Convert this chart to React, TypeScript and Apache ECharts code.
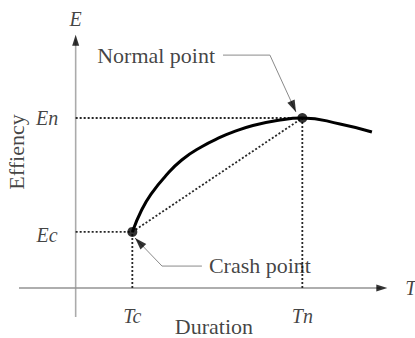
import { useEffect, useRef } from "react";
import * as echarts from "echarts";

// axis ranges (data units)
const T_RANGE = [-2.5, 14];
const E_RANGE = [-1.8, 15];
// key points: [crash, normal]
const T_KEY = [2.5, 10]; // Tc, Tn
const E_KEY = [3.3, 10]; // Ec, En
// efficiency curve
const CURVE_T = [2.5, 2.91, 3.35, 3.94, 4.68, 5.56, 6.44, 6.9, 7.82, 8.88, 10, 11.66, 13.07];
const CURVE_E = [3.3, 4.59, 5.57, 6.55, 7.53, 8.31, 8.9, 9.15, 9.56, 9.85, 10, 9.65, 9.18];
// drawn axes extents
const T_AXIS_LINE = [-2.5, 13.75];
const E_AXIS_LINE = [-1.7, 14.9];
// leader lines (start, corner, tip)
const NORMAL_LEADER_T = [6.5, 8.57, 9.72];
const NORMAL_LEADER_E = [13.7, 13.7, 10.35];
const CRASH_LEADER_T = [5.57, 3.81, 2.62];
const CRASH_LEADER_E = [1.29, 1.29, 2.94];
// plain labels
const LABEL_TEXTS = ["Normal point", "Crash point", "Duration", "Effiency"];
const LABEL_T = [3.55, 8.13, 6.1, -2.59];
const LABEL_E = [13.69, 1.32, -2.24, 8.0];
const LABEL_ROTATE = [0, 0, 0, 90];
// italic symbol labels
const SYMBOL_TEXTS = ["E", "T", "En", "Ec", "Tc", "Tn"];
const SYMBOL_T = [0, 14.79, -1.26, -1.26, 2.5, 10];
const SYMBOL_E = [15.82, 0, 10, 3.12, -1.65, -1.65];

const GRID = { left: 19, top: 33, width: 374, height: 285.6 };
const SERIF = "'Liberation Serif', 'Times New Roman', serif";

export default function App() {
  const ref = useRef<HTMLDivElement>(null);
  useEffect(() => {
    if (!ref.current) return;
    const chart = echarts.init(ref.current, undefined, { renderer: "svg" });
    const sx = GRID.width / (T_RANGE[1] - T_RANGE[0]);
    const sy = GRID.height / (E_RANGE[1] - E_RANGE[0]);

    const arrowHead = (from: number[], to: number[], w: number, h: number) => {
      const dx = (to[0] - from[0]) * sx;
      const dy = -(to[1] - from[1]) * sy;
      const len = Math.hypot(dx, dy);
      const ux = dx / len;
      const uy = dy / len;
      const rot = (Math.atan2(-ux, -uy) * 180) / Math.PI;
      return {
        value: to,
        symbol: "triangle",
        symbolSize: [w, h],
        symbolRotate: rot,
        symbolOffset: [-(h / 2) * ux, -(h / 2) * uy],
      };
    };

    const plainLine = (data: number[][], color: string, width: number, type: any = "solid") => ({
      type: "line",
      data,
      symbol: "none",
      showSymbol: false,
      silent: true,
      clip: false,
      smooth: false,
      lineStyle: { color, width, type },
      z: 2,
    });

    const [tc, tn] = T_KEY;
    const [ec, en] = E_KEY;
    const dotted = [2, 2];
    const dotColor = "#262626";
    const dotWidth = 1.8;

    const normalLeader = NORMAL_LEADER_T.map((t, i) => [t, NORMAL_LEADER_E[i]]);
    const crashLeader = CRASH_LEADER_T.map((t, i) => [t, CRASH_LEADER_E[i]]);

    const labelStyle = { fontFamily: SERIF, fontSize: 22, color: "#111" };

    chart.setOption({
      animation: false,
      backgroundColor: "#fff",
      grid: GRID,
      xAxis: { type: "value", min: T_RANGE[0], max: T_RANGE[1], show: false },
      yAxis: { type: "value", min: E_RANGE[0], max: E_RANGE[1], show: false },
      series: [
        plainLine([[0, E_AXIS_LINE[0]], [0, E_AXIS_LINE[1] - 0.3]], "#ababab", 1.6),
        plainLine([[T_AXIS_LINE[0], 0], [T_AXIS_LINE[1] - 0.3, 0]], "#939393", 1.5),
        plainLine([[0, en], [tn, en]], dotColor, dotWidth, dotted),
        plainLine([[tn, 0], [tn, en]], dotColor, dotWidth, dotted),
        plainLine([[0, ec], [tc, ec]], dotColor, dotWidth, dotted),
        plainLine([[tc, 0], [tc, ec]], dotColor, dotWidth, dotted),
        plainLine([[tc, ec], [tn, en]], dotColor, dotWidth, dotted),
        {
          ...plainLine(CURVE_T.map((t, i) => [t, CURVE_E[i]]), "#000", 3),
          smooth: 0.5,
          z: 3,
        },
        plainLine(normalLeader, "#8a8a8a", 1),
        plainLine(crashLeader, "#8a8a8a", 1),
        {
          type: "scatter",
          silent: true,
          clip: false,
          z: 4,
          itemStyle: { color: "#000" },
          data: [
            { value: [tc, ec], symbol: "circle", symbolSize: 10 },
            { value: [tn, en], symbol: "circle", symbolSize: 10 },
            arrowHead([0, E_AXIS_LINE[0]], [0, E_AXIS_LINE[1]], 7, 11),
            arrowHead([T_AXIS_LINE[0], 0], [T_AXIS_LINE[1], 0], 7, 11),
            arrowHead(normalLeader[1], normalLeader[2], 8, 12),
            arrowHead(crashLeader[1], crashLeader[2], 8, 12),
          ],
        },
        {
          type: "scatter",
          silent: true,
          clip: false,
          z: 5,
          symbolSize: 1,
          itemStyle: { color: "rgba(0,0,0,0)" },
          data: LABEL_TEXTS.map((text, i) => ({
            value: [LABEL_T[i], LABEL_E[i]],
            label: {
              show: true,
              position: "inside",
              formatter: text,
              rotate: LABEL_ROTATE[i],
              ...labelStyle,
            },
          })),
        },
        {
          type: "scatter",
          silent: true,
          clip: false,
          z: 5,
          symbolSize: 1,
          itemStyle: { color: "rgba(0,0,0,0)" },
          data: SYMBOL_TEXTS.map((text, i) => ({
            value: [SYMBOL_T[i], SYMBOL_E[i]],
            label: {
              show: true,
              position: "inside",
              formatter: text,
              ...labelStyle,
              fontSize: 20,
              fontStyle: "italic",
            },
          })),
        },
      ],
    });
    return () => chart.dispose();
  }, []);
  return (
    <div
      ref={ref}
      style={{ position: "absolute", left: 0, top: 0, width: 415, height: 338, background: "#fff" }}
    />
  );
}
